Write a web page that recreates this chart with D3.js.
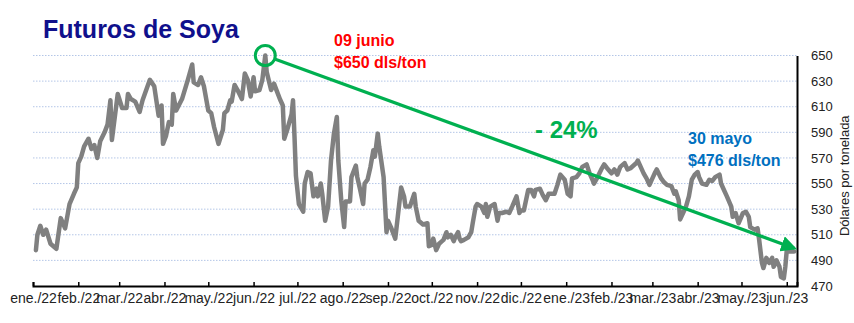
<!DOCTYPE html>
<html>
<head>
<meta charset="utf-8">
<script src="https://cdn.jsdelivr.net/npm/d3@7"></script>
<style>
  body { margin: 0; background: #fff; }
  svg { display: block; font-family: "Liberation Sans", Arial, sans-serif; }
</style>
</head>
<body>
<div id="chart"></div>
<script>
// precios diarios (lectura aproximada del grafico)
const fechas = [
  "2022-01-03","2022-01-04","2022-01-06","2022-01-08","2022-01-10","2022-01-13","2022-01-17","2022-01-20","2022-01-23","2022-01-26",
  "2022-01-29","2022-01-31","2022-02-01","2022-02-03","2022-02-05","2022-02-08","2022-02-10","2022-02-12","2022-02-14","2022-02-16",
  "2022-02-19","2022-02-21","2022-02-23","2022-02-24","2022-02-26","2022-02-28","2022-03-03","2022-03-06","2022-03-07","2022-03-09",
  "2022-03-12","2022-03-15","2022-03-17","2022-03-22","2022-03-25","2022-03-28","2022-03-30","2022-03-31","2022-04-02","2022-04-04",
  "2022-04-06","2022-04-07","2022-04-09","2022-04-13","2022-04-17","2022-04-20","2022-04-21","2022-04-24","2022-04-26","2022-04-28",
  "2022-05-01","2022-05-03","2022-05-05","2022-05-08","2022-05-11","2022-05-12","2022-05-14","2022-05-16","2022-05-17","2022-05-19",
  "2022-05-21","2022-05-24","2022-05-26","2022-05-28","2022-05-30","2022-06-01","2022-06-02","2022-06-05","2022-06-07","2022-06-09",
  "2022-06-10","2022-06-13","2022-06-15","2022-06-17","2022-06-19","2022-06-21","2022-06-22","2022-06-24","2022-06-27","2022-06-28",
  "2022-06-29","2022-06-30","2022-07-02","2022-07-05","2022-07-06","2022-07-08","2022-07-10","2022-07-12","2022-07-14","2022-07-15",
  "2022-07-17","2022-07-18","2022-07-20","2022-07-22","2022-07-24","2022-07-26","2022-07-28","2022-07-29","2022-07-31","2022-08-02",
  "2022-08-03","2022-08-06","2022-08-07","2022-08-10","2022-08-11","2022-08-13","2022-08-15","2022-08-16","2022-08-18","2022-08-20",
  "2022-08-22","2022-08-23","2022-08-25","2022-08-26","2022-08-28","2022-08-29","2022-08-31","2022-09-01","2022-09-03","2022-09-06",
  "2022-09-08","2022-09-10","2022-09-12","2022-09-13","2022-09-16","2022-09-19","2022-09-20","2022-09-22","2022-09-25","2022-09-28",
  "2022-09-29","2022-10-01","2022-10-02","2022-10-04","2022-10-06","2022-10-08","2022-10-09","2022-10-11","2022-10-12","2022-10-14",
  "2022-10-16","2022-10-17","2022-10-19","2022-10-20","2022-10-21","2022-10-23","2022-10-26","2022-10-28","2022-10-29","2022-10-31",
  "2022-11-01","2022-11-04","2022-11-06","2022-11-07","2022-11-08","2022-11-10","2022-11-13","2022-11-15","2022-11-16","2022-11-18",
  "2022-11-21","2022-11-23","2022-11-25","2022-11-28","2022-11-30","2022-12-01","2022-12-03","2022-12-06","2022-12-08","2022-12-10",
  "2022-12-11","2022-12-14","2022-12-16","2022-12-18","2022-12-20","2022-12-24","2022-12-26","2022-12-28","2022-12-31","2023-01-02",
  "2023-01-04","2023-01-05","2023-01-08","2023-01-10","2023-01-12","2023-01-15","2023-01-17","2023-01-19","2023-01-20","2023-01-22",
  "2023-01-25","2023-01-27","2023-01-29","2023-02-01","2023-02-03","2023-02-05","2023-02-07","2023-02-10","2023-02-12","2023-02-14",
  "2023-02-18","2023-02-19","2023-02-21","2023-02-23","2023-02-25","2023-02-27","2023-03-01","2023-03-03","2023-03-04","2023-03-07",
  "2023-03-09","2023-03-11","2023-03-14","2023-03-16","2023-03-17","2023-03-19","2023-03-20","2023-03-22","2023-03-24","2023-03-26",
  "2023-03-28","2023-03-30","2023-04-01","2023-04-02","2023-04-04","2023-04-07","2023-04-09","2023-04-11","2023-04-13","2023-04-16",
  "2023-04-17","2023-04-19","2023-04-21","2023-04-24","2023-04-25","2023-04-27","2023-04-29","2023-05-02","2023-05-04","2023-05-06",
  "2023-05-07","2023-05-10","2023-05-12","2023-05-13","2023-05-15","2023-05-16","2023-05-18","2023-05-20","2023-05-22","2023-05-23",
  "2023-05-25","2023-05-27","2023-05-28","2023-05-30","2023-05-31","2023-06-01","2023-06-02","2023-06-05","2023-06-06"
];
const precios = [
  498,510,517,510,514,503,499,523,515,534,
  542,547,566,571,579,585,577,580,570,583,
  590,596,615,584,602,620,609,609,620,616,
  614,606,615,631,626,603,611,581,587,598,
  596,620,607,616,631,643,629,627,633,626,
  607,605,594,581,592,605,607,615,614,627,
  623,616,636,631,618,633,622,623,631,650,
  637,623,628,622,616,611,585,592,604,615,
  587,556,534,528,550,559,558,540,546,540,
  550,542,521,532,568,589,602,568,537,516,
  536,536,555,564,555,545,534,550,553,563,
  576,571,589,579,563,555,512,521,516,507,
  527,547,540,532,532,542,532,521,518,519,
  501,502,507,498,503,505,506,512,508,510,
  505,508,512,507,505,506,508,512,519,532,
  534,532,527,534,524,532,534,521,527,527,
  528,527,532,540,527,529,529,545,545,540,
  545,546,541,537,542,542,549,557,553,542,
  540,554,555,558,563,565,558,553,550,554,
  561,565,562,558,561,557,563,566,561,562,
  566,568,563,558,554,549,554,559,561,554,
  551,549,548,542,544,537,522,527,532,540,
  553,557,559,555,550,549,553,552,555,557,
  550,545,540,532,524,527,519,527,528,524,
  516,514,515,507,488,484,492,488,492,485,
  490,485,477,476,485,498,497,497,497
];

// ejes
const mesesInicio = ["2022-01-01","2022-02-01","2022-03-01","2022-04-01","2022-05-01","2022-06-01","2022-07-01","2022-08-01","2022-09-01",
  "2022-10-01","2022-11-01","2022-12-01","2023-01-01","2023-02-01","2023-03-01","2023-04-01","2023-05-01","2023-06-01"];
const mesesEtiquetas = ["ene./22","feb./22","mar./22","abr./22","may./22","jun./22","jul./22","ago./22","sep./22",
  "oct./22","nov./22","dic./22","ene./23","feb./23","mar./23","abr./23","may./23","jun./23"];
const yTicks = [470,490,510,530,550,570,590,610,630,650];

// anotaciones
const maximo = {fecha: "2022-06-09", precio: 650};
const tendenciaFin = {fecha: "2023-06-06", precio: 499.5};
const textoMax = ["09 junio", "$650 dls/ton"];
const textoMin = ["30 mayo", "$476 dls/ton"];
const textoCambio = "- 24%";

const W = 854, H = 323;
const m = {t: 55.5, r: 57, b: 37, l: 33};

const parse = d3.timeParse("%Y-%m-%d");
const data = fechas.map((f, i) => ({date: parse(f), value: precios[i]}));

const x = d3.scaleTime()
  .domain([parse("2022-01-01"), parse("2023-06-08")])
  .range([m.l, W - m.r]);
const y = d3.scaleLinear()
  .domain([470, 650])
  .range([H - m.b, m.t]);

const svg = d3.select('#chart')
  .append('svg')
  .attr('width', W)
  .attr('height', H);

// grid
svg.append('g')
  .attr('class', 'grid')
  .selectAll('line')
  .data(yTicks.filter(d => d > 470))
  .enter()
  .append('line')
  .attr('x1', m.l)
  .attr('x2', W - m.r)
  .attr('y1', d => y(d))
  .attr('y2', d => y(d))
  .attr('stroke', '#b4c6e7')
  .attr('stroke-width', 1)
  .attr('stroke-dasharray', '1.5,1.5');

// titulo
svg.append('text')
  .attr('x', 43)
  .attr('y', 38)
  .attr('font-size', 25)
  .attr('font-weight', 'bold')
  .attr('fill', '#10108c')
  .text('Futuros de Soya');

// serie
const line = d3.line()
  .x(d => x(d.date))
  .y(d => y(d.value));

svg.append('path')
  .datum(data)
  .attr('d', line)
  .attr('fill', 'none')
  .attr('stroke', '#808080')
  .attr('stroke-width', 4.5)
  .attr('stroke-linejoin', 'round')
  .attr('stroke-linecap', 'round');

// eje x
const xAxis = d3.axisBottom(x)
  .tickValues(mesesInicio.map(parse))
  .tickSize(-4)
  .tickFormat((d, i) => mesesEtiquetas[i]);

const gx = svg.append('g')
  .attr('transform', `translate(0, ${H - m.b})`)
  .call(xAxis);
gx.select('.domain').attr('stroke', '#000').attr('stroke-width', 2);
gx.selectAll('.tick line').attr('stroke', '#000').attr('stroke-width', 1.5);
gx.selectAll('.tick text')
  .attr('y', 17)
  .attr('dy', 0)
  .attr('font-size', 14)
  .attr('font-family', '"Liberation Sans", Arial, sans-serif')
  .attr('fill', '#222');

// eje y (derecha)
const yAxis = d3.axisRight(y)
  .tickValues(yTicks)
  .tickSize(0)
  .tickPadding(14);

const gy = svg.append('g')
  .attr('transform', `translate(${W - m.r}, 0)`)
  .call(yAxis);
gy.select('.domain').attr('stroke', '#000').attr('stroke-width', 2);
gy.selectAll('.tick text')
  .attr('font-size', 13)
  .attr('font-family', '"Liberation Sans", Arial, sans-serif')
  .attr('fill', '#222');

svg.append('text')
  .attr('transform', `translate(849, ${(m.t + H - m.b) / 2 + 5}) rotate(-90)`)
  .attr('text-anchor', 'middle')
  .attr('font-size', 13)
  .attr('fill', '#222')
  .text('Dólares por tonelada');

// flecha de tendencia
const verde = '#00b050';
svg.append('defs')
  .append('marker')
  .attr('id', 'flecha')
  .attr('viewBox', '0 0 10 10')
  .attr('refX', 8)
  .attr('refY', 5)
  .attr('markerWidth', 5)
  .attr('markerHeight', 5)
  .attr('orient', 'auto')
  .attr('markerUnits', 'strokeWidth')
  .append('path')
  .attr('d', 'M0,0 L10,5 L0,10 z')
  .attr('fill', verde);

const cx = x(parse(maximo.fecha)), cy = y(maximo.precio);
const ex = x(parse(tendenciaFin.fecha)), ey = y(tendenciaFin.precio);
const r = 10;
const ang = Math.atan2(ey - cy, ex - cx);

svg.append('circle')
  .attr('cx', cx)
  .attr('cy', cy)
  .attr('r', r)
  .attr('fill', 'none')
  .attr('stroke', verde)
  .attr('stroke-width', 3);

svg.append('line')
  .attr('x1', cx + r * Math.cos(ang))
  .attr('y1', cy + r * Math.sin(ang))
  .attr('x2', ex)
  .attr('y2', ey)
  .attr('stroke', verde)
  .attr('stroke-width', 3.2)
  .attr('marker-end', 'url(#flecha)');

// textos
svg.append('g')
  .selectAll('text')
  .data(textoMax)
  .enter()
  .append('text')
  .attr('x', 334)
  .attr('y', (d, i) => 46 + i * 22)
  .attr('font-size', 16)
  .attr('font-weight', 'bold')
  .attr('fill', '#ff0000')
  .text(d => d);

svg.append('g')
  .selectAll('text')
  .data(textoMin)
  .enter()
  .append('text')
  .attr('x', 688)
  .attr('y', (d, i) => 144 + i * 22)
  .attr('font-size', 16)
  .attr('font-weight', 'bold')
  .attr('fill', '#0070c0')
  .text(d => d);

svg.append('text')
  .attr('x', 535)
  .attr('y', 138)
  .attr('font-size', 24)
  .attr('font-weight', 'bold')
  .attr('fill', verde)
  .text(textoCambio);
</script>
</body>
</html>
